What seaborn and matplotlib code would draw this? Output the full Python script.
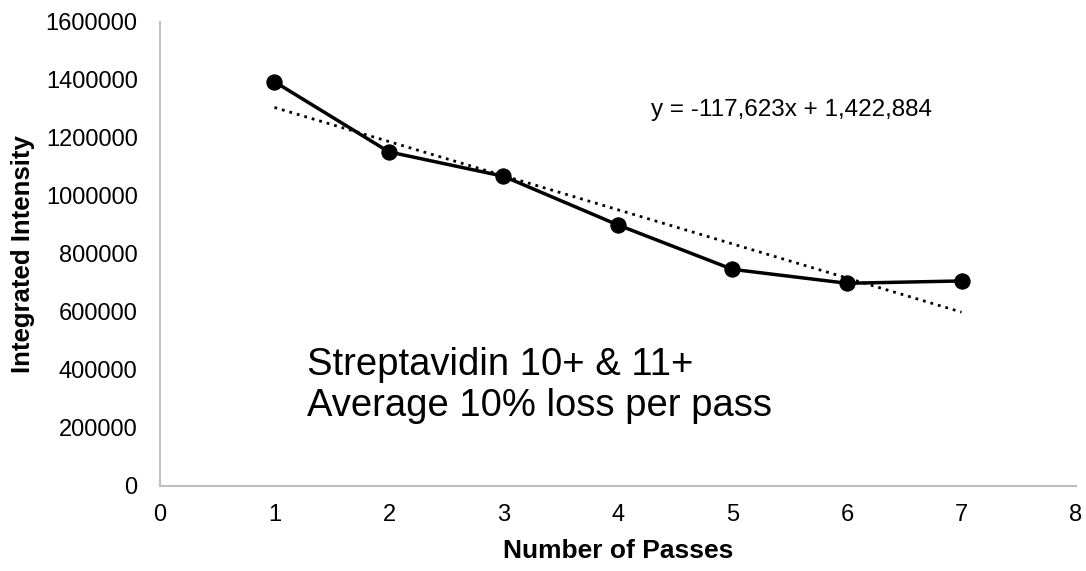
import matplotlib
matplotlib.use("Agg")
import matplotlib.pyplot as plt
import seaborn as sns
import numpy as np
import pandas as pd

# Integrated intensity after each pass
passes = [1, 2, 3, 4, 5, 6, 7]
intensity = [1394000, 1152000, 1068000, 900000, 747000, 699000, 707000]

# Linear trendline coefficients
slope = -117623
intercept = 1422884

x_ticks = [0, 1, 2, 3, 4, 5, 6, 7, 8]
y_ticks = [0, 200000, 400000, 600000, 800000, 1000000, 1200000, 1400000, 1600000]

sns.set_style("white")
plt.rcParams["font.family"] = ["Liberation Sans", "DejaVu Sans"]

fig = plt.figure(figsize=(10.86, 5.71), dpi=100)
ax = fig.add_axes([0.1473, 0.1489, 0.8435, 0.8126])

df = pd.DataFrame({"Passes": passes, "Intensity": intensity})
trend_x = np.array([passes[0], passes[-1]])
trend = pd.DataFrame({"Passes": trend_x, "Intensity": slope * trend_x + intercept})

sns.lineplot(data=trend, x="Passes", y="Intensity", ax=ax, color="black",
             linewidth=2.0, linestyle=(0, (1, 1.8)))
sns.lineplot(data=df, x="Passes", y="Intensity", ax=ax, color="black",
             linewidth=2.5, marker="o", markersize=11, markeredgecolor="black")

ax.set_xlim(0, 8)
ax.set_ylim(0, 1600000)
ax.set_xticks(x_ticks)
ax.set_yticks(y_ticks)
ax.set_xticklabels([str(v) for v in x_ticks])
ax.set_yticklabels([str(v) for v in y_ticks])
ax.tick_params(axis="both", length=0, labelsize=17, colors="black")
ax.tick_params(axis="y", pad=16)
ax.tick_params(axis="x", pad=13)

for side in ["top", "right"]:
    ax.spines[side].set_visible(False)
for side in ["left", "bottom"]:
    ax.spines[side].set_color("#bfbfbf")
    ax.spines[side].set_linewidth(1.5)

ax.set_xlabel("Number of Passes", fontsize=19, fontweight="bold",
              labelpad=9, color="black")
ax.set_ylabel("Integrated Intensity", fontsize=18.5, fontweight="bold",
              labelpad=8, color="black")

ax.text(4.284, 1275862, f"y = {slope:,}x + {intercept:,}", fontsize=17.5,
        va="baseline", ha="left", color="black")
ax.text(1.28, 382759, "Streptavidin 10+ & 11+", fontsize=27.5,
        va="baseline", ha="left", color="black")
ax.text(1.28, 241379, "Average 10% loss per pass", fontsize=27.5,
        va="baseline", ha="left", color="black")

fig.savefig("out.png", dpi=100)
